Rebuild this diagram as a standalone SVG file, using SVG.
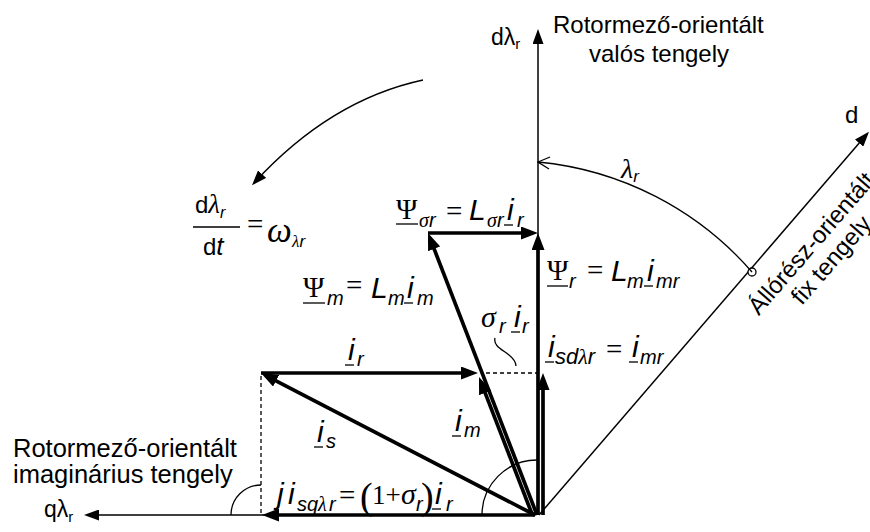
<svg xmlns="http://www.w3.org/2000/svg" width="870" height="532" viewBox="0 0 870 532">
<style>
.ax{stroke:#000;stroke-width:1.5;fill:none}
.v{stroke:#000;stroke-width:3.7;fill:none}
.thin{stroke:#000;stroke-width:1.3;fill:none}
.dash{stroke:#000;stroke-width:1.3;stroke-dasharray:4,3;fill:none}
.ul{stroke:#000;stroke-width:1.3}
text{fill:#000}
.t{font-family:"Liberation Sans",Arial,sans-serif;font-size:24px}
.mi{font-family:"Liberation Sans",Arial,sans-serif;font-style:italic;font-size:30px}
.ms{font-family:"Liberation Sans",Arial,sans-serif;font-style:italic;font-size:20px}
.gs{font-family:"Liberation Serif","Times New Roman",serif;font-style:italic;font-size:20px}
.gi{font-family:"Liberation Serif","Times New Roman",serif;font-style:italic;font-size:30px}
.sy{font-family:"Liberation Serif","Times New Roman",serif;font-size:29px}
</style>
<defs>
<marker id="ah" markerUnits="userSpaceOnUse" markerWidth="17" markerHeight="13" viewBox="0 0 17 13" refX="12" refY="6.5" orient="auto"><path d="M0,0 L17,6.5 L0,13 z" fill="#000"/></marker>
<marker id="aa" markerUnits="userSpaceOnUse" markerWidth="15" markerHeight="11" viewBox="0 0 15 11" refX="12" refY="5.5" orient="auto"><path d="M0,0 L15,5.5 L0,11 z" fill="#000"/></marker>
</defs>

<g id="axes">
<line class="ax" x1="538" y1="515" x2="538" y2="32" marker-end="url(#aa)"/>
<line class="ax" x1="535" y1="515" x2="87" y2="515" marker-end="url(#aa)"/>
<line class="ax" x1="539" y1="515" x2="867" y2="134" marker-end="url(#aa)"/>
<circle cx="752" cy="272" r="4" fill="#fff" stroke="#000" stroke-width="1.3"/>
</g>

<g id="connectors">
<line class="v" x1="538" y1="515" x2="538" y2="238" marker-end="url(#ah)"/>
<line class="v" x1="543" y1="515" x2="543" y2="378" marker-end="url(#ah)"/>
<line class="v" x1="537" y1="515" x2="429.8" y2="237.7" marker-end="url(#ah)"/>
<line class="v" x1="532" y1="514" x2="480.8" y2="381.7" marker-end="url(#ah)"/>
<line class="v" x1="428" y1="233" x2="533" y2="233" marker-end="url(#ah)"/>
<line class="v" x1="261" y1="373" x2="473" y2="373" marker-end="url(#ah)"/>
<line class="v" x1="535" y1="515" x2="265.4" y2="375.3" marker-end="url(#ah)"/>
<line class="v" x1="535" y1="515" x2="267" y2="515" marker-end="url(#ah)"/>
<line class="dash" x1="261" y1="376" x2="261" y2="515"/>
<line class="dash" x1="486" y1="373" x2="538" y2="373"/>
<path class="thin" d="M423,80 Q330,100 254,183" marker-end="url(#aa)"/>
<path class="thin" d="M752,272 A324,324 0 0 0 538,162"/>
<path class="thin" d="M550,157 L538,162 L549,169"/>
<path class="thin" d="M482,515 A55,55 0 0 1 537,460"/>
<path class="thin" d="M231,515 A30,30 0 0 1 261,485"/>
<path class="thin" d="M495,338 C493,346 503,350 509,355 C514,359 516,362 516,366"/>
</g>

<g id="label-axes">
<text class="t" x="491" y="45" style="font-size:23px">dλ<tspan font-size="15" dy="4">r</tspan></text>
<text class="t" x="553" y="33">Rotormező-orientált</text>
<text class="t" x="659" y="62" text-anchor="middle">valós tengely</text>
<text class="t" x="845" y="123">d</text>
<g transform="translate(752,272) rotate(-49)">
<text class="t" x="-29" y="34">Állórész-orientált</text>
<text class="t" x="61" y="60" text-anchor="middle">fix tengely</text>
</g>
<text class="t" x="13" y="457" style="font-size:25.5px">Rotormező-orientált</text>
<text class="t" x="13" y="483" style="font-size:25.5px">imaginárius tengely</text>
<text class="t" x="44" y="517" style="font-size:23px">qλ<tspan font-size="15" dy="5">r</tspan></text>
<text x="621" y="178"><tspan class="gi" style="font-size:28px">λ</tspan><tspan class="ms" style="font-size:17px" dy="4">r</tspan></text>
</g>

<g id="label-omega">
<text x="195" y="213"><tspan class="t">d</tspan><tspan class="gi" style="font-size:27px">λ</tspan><tspan class="ms" style="font-size:16px" dy="5">r</tspan></text>
<line class="ul" x1="193" y1="227" x2="240" y2="227"/>
<text x="203" y="255"><tspan class="t">d</tspan><tspan class="mi" style="font-size:26px">t</tspan></text>
<text class="sy" x="247" y="234">=</text>
<text x="267" y="242"><tspan class="gi" style="font-size:35px">ω</tspan><tspan class="gs" style="font-size:17px" x="292" y="247">λ</tspan><tspan class="ms" style="font-size:17px">r</tspan></text>
</g>

<g id="label-psi-sigma">
<text y="219"><tspan class="sy" x="396">Ψ</tspan><tspan class="gs" x="419" y="227">σ</tspan><tspan class="ms">r</tspan><tspan class="sy" x="446" y="221">=</tspan><tspan class="mi" x="469" y="220">L</tspan><tspan class="gs" x="487" y="227">σ</tspan><tspan class="ms">r</tspan><tspan class="mi" x="507" y="220">i</tspan><tspan class="ms" x="517" y="227">r</tspan></text>
<line class="ul" x1="396" y1="224" x2="418" y2="224"/>
<line class="ul" x1="504" y1="225" x2="513" y2="225"/>
</g>

<g id="label-psi-m">
<text y="297"><tspan class="sy" x="303">Ψ</tspan><tspan class="ms" x="327" y="305">m</tspan><tspan class="sy" x="346" y="295">=</tspan><tspan class="mi" x="371" y="298">L</tspan><tspan class="ms" x="388" y="305">m</tspan><tspan class="mi" x="407" y="298">i</tspan><tspan class="ms" x="417" y="305">m</tspan></text>
<line class="ul" x1="303" y1="303" x2="325" y2="303"/>
<line class="ul" x1="404" y1="303" x2="413" y2="303"/>
</g>

<g id="label-psi-r">
<text y="280"><tspan class="sy" x="547">Ψ</tspan><tspan class="ms" x="569" y="288">r</tspan><tspan class="sy" x="587" y="280">=</tspan><tspan class="mi" x="611" y="281">L</tspan><tspan class="ms" x="627" y="288">m</tspan><tspan class="mi" x="647" y="281">i</tspan><tspan class="ms" x="656" y="288">mr</tspan></text>
<line class="ul" x1="547" y1="286" x2="568" y2="286"/>
<line class="ul" x1="644" y1="286" x2="653" y2="286"/>
</g>

<g id="label-sigma-ir">
<text y="327"><tspan class="gi" x="481">σ</tspan><tspan class="ms" x="499" y="333">r</tspan><tspan class="mi" x="514" y="327">i</tspan><tspan class="ms" x="522" y="333">r</tspan></text>
<line class="ul" x1="511" y1="332" x2="520" y2="332"/>
</g>

<g id="label-isd">
<text y="357"><tspan class="mi" x="548">i</tspan><tspan class="ms" x="555" y="364" style="font-size:22px">sd</tspan><tspan class="gs" style="font-size:22px">λ</tspan><tspan class="ms" style="font-size:22px">r</tspan><tspan class="sy" x="606" y="359">=</tspan><tspan class="mi" x="632" y="357">i</tspan><tspan class="ms" x="640" y="364">mr</tspan></text>
<line class="ul" x1="545" y1="362" x2="554" y2="362"/>
<line class="ul" x1="629" y1="362" x2="638" y2="362"/>
</g>

<g id="label-ir">
<text y="360"><tspan class="mi" x="348">i</tspan><tspan class="ms" x="357" y="366">r</tspan></text>
<line class="ul" x1="345" y1="365" x2="354" y2="365"/>
</g>

<g id="label-is">
<text y="442"><tspan class="mi" x="317">i</tspan><tspan class="ms" x="326" y="448">s</tspan></text>
<line class="ul" x1="314" y1="447" x2="323" y2="447"/>
</g>

<g id="label-im">
<text y="431"><tspan class="mi" x="455">i</tspan><tspan class="ms" x="464" y="437">m</tspan></text>
<line class="ul" x1="452" y1="436" x2="461" y2="436"/>
</g>

<g id="label-isq">
<text y="504"><tspan class="mi" x="277">j</tspan><tspan class="mi" x="288">i</tspan><tspan class="ms" x="297" y="511">s</tspan><tspan class="ms" x="307">q</tspan><tspan class="gs" x="318">λ</tspan><tspan class="ms" x="329">r</tspan><tspan class="sy" x="339" y="505">=</tspan><tspan class="sy" x="360" y="509" style="font-size:38px">(</tspan><tspan class="sy" x="372" y="504" style="font-size:27px">1+</tspan><tspan class="gi" x="401">σ</tspan><tspan class="ms" x="416" y="511">r</tspan><tspan class="sy" x="421" y="509" style="font-size:38px">)</tspan><tspan class="mi" x="435" y="504">i</tspan><tspan class="ms" x="446" y="511">r</tspan></text>
<line class="ul" x1="432" y1="509" x2="441" y2="509"/>
</g>
</svg>
